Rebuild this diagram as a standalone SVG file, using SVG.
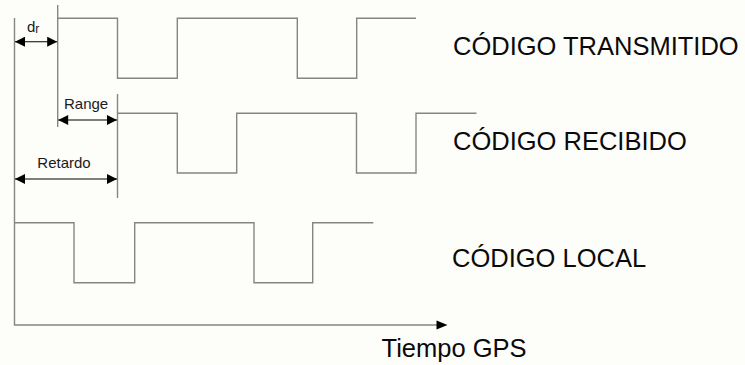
<svg xmlns="http://www.w3.org/2000/svg" width="745" height="365" viewBox="0 0 745 365">
<style>
.wave{fill:none;stroke:#858585;stroke-width:1.4}
.dim{fill:none;stroke:#000;stroke-width:1.1}
.big{font-family:"Liberation Sans",Arial,sans-serif;font-size:25.5px;fill:#0a0a0a}
.small{font-family:"Liberation Sans",Arial,sans-serif;font-size:15px;fill:#1a1a1a}
</style>
<defs>
<marker id="ah" viewBox="0 0 10 10" refX="10" refY="5" markerWidth="11" markerHeight="10" markerUnits="userSpaceOnUse" orient="auto-start-reverse">
<path d="M0,0 L10,5 L0,10 Z" fill="#000"/>
</marker>
</defs>
<rect width="745" height="365" fill="#fdfdfa"/>
<g id="axes">
<path class="wave" d="M14.5,18 V325 H437"/>
<polygon points="436.5,320.5 447.5,325 436.5,329.5" fill="#000"/>
<text class="big" x="381.5" y="356.5">Tiempo GPS</text>
</g>
<g id="transmitido">
<path class="wave" d="M57.7,5 V127"/>
<path class="wave" d="M57.7,18.3 H117.5 V78.3 H177.3 V18.3 H297.3 V78.3 H356.7 V18.3 H416"/>
<text class="big" x="453" y="55">CÓDIGO TRANSMITIDO</text>
</g>
<g id="recibido">
<path class="wave" d="M117.5,94 V198"/>
<path class="wave" d="M117.5,113.3 H177.3 V173 H236.7 V113.3 H356.5 V173 H416 V113.3 H476.5"/>
<text class="big" x="453" y="150">CÓDIGO RECIBIDO</text>
</g>
<g id="local">
<path class="wave" d="M14.5,222.7 H74 V282.7 H134.7 V222.7 H254 V282.7 H312.7 V222.7 H373.3"/>
<text class="big" x="452" y="266.5">CÓDIGO LOCAL</text>
</g>
<g id="connectors">
<line class="dim" x1="15" y1="41.7" x2="57.2" y2="41.7" marker-start="url(#ah)" marker-end="url(#ah)"/>
<line class="dim" x1="58.2" y1="120" x2="117" y2="120" marker-start="url(#ah)" marker-end="url(#ah)"/>
<line class="dim" x1="15" y1="179" x2="117" y2="179" marker-start="url(#ah)" marker-end="url(#ah)"/>
</g>
<g id="labels">
<text class="small" x="27" y="32">d<tspan font-size="12" dy="0.5">r</tspan></text>
<text class="small" x="64" y="108.5">Range</text>
<text class="small" x="37.3" y="168.3">Retardo</text>
</g>
</svg>
